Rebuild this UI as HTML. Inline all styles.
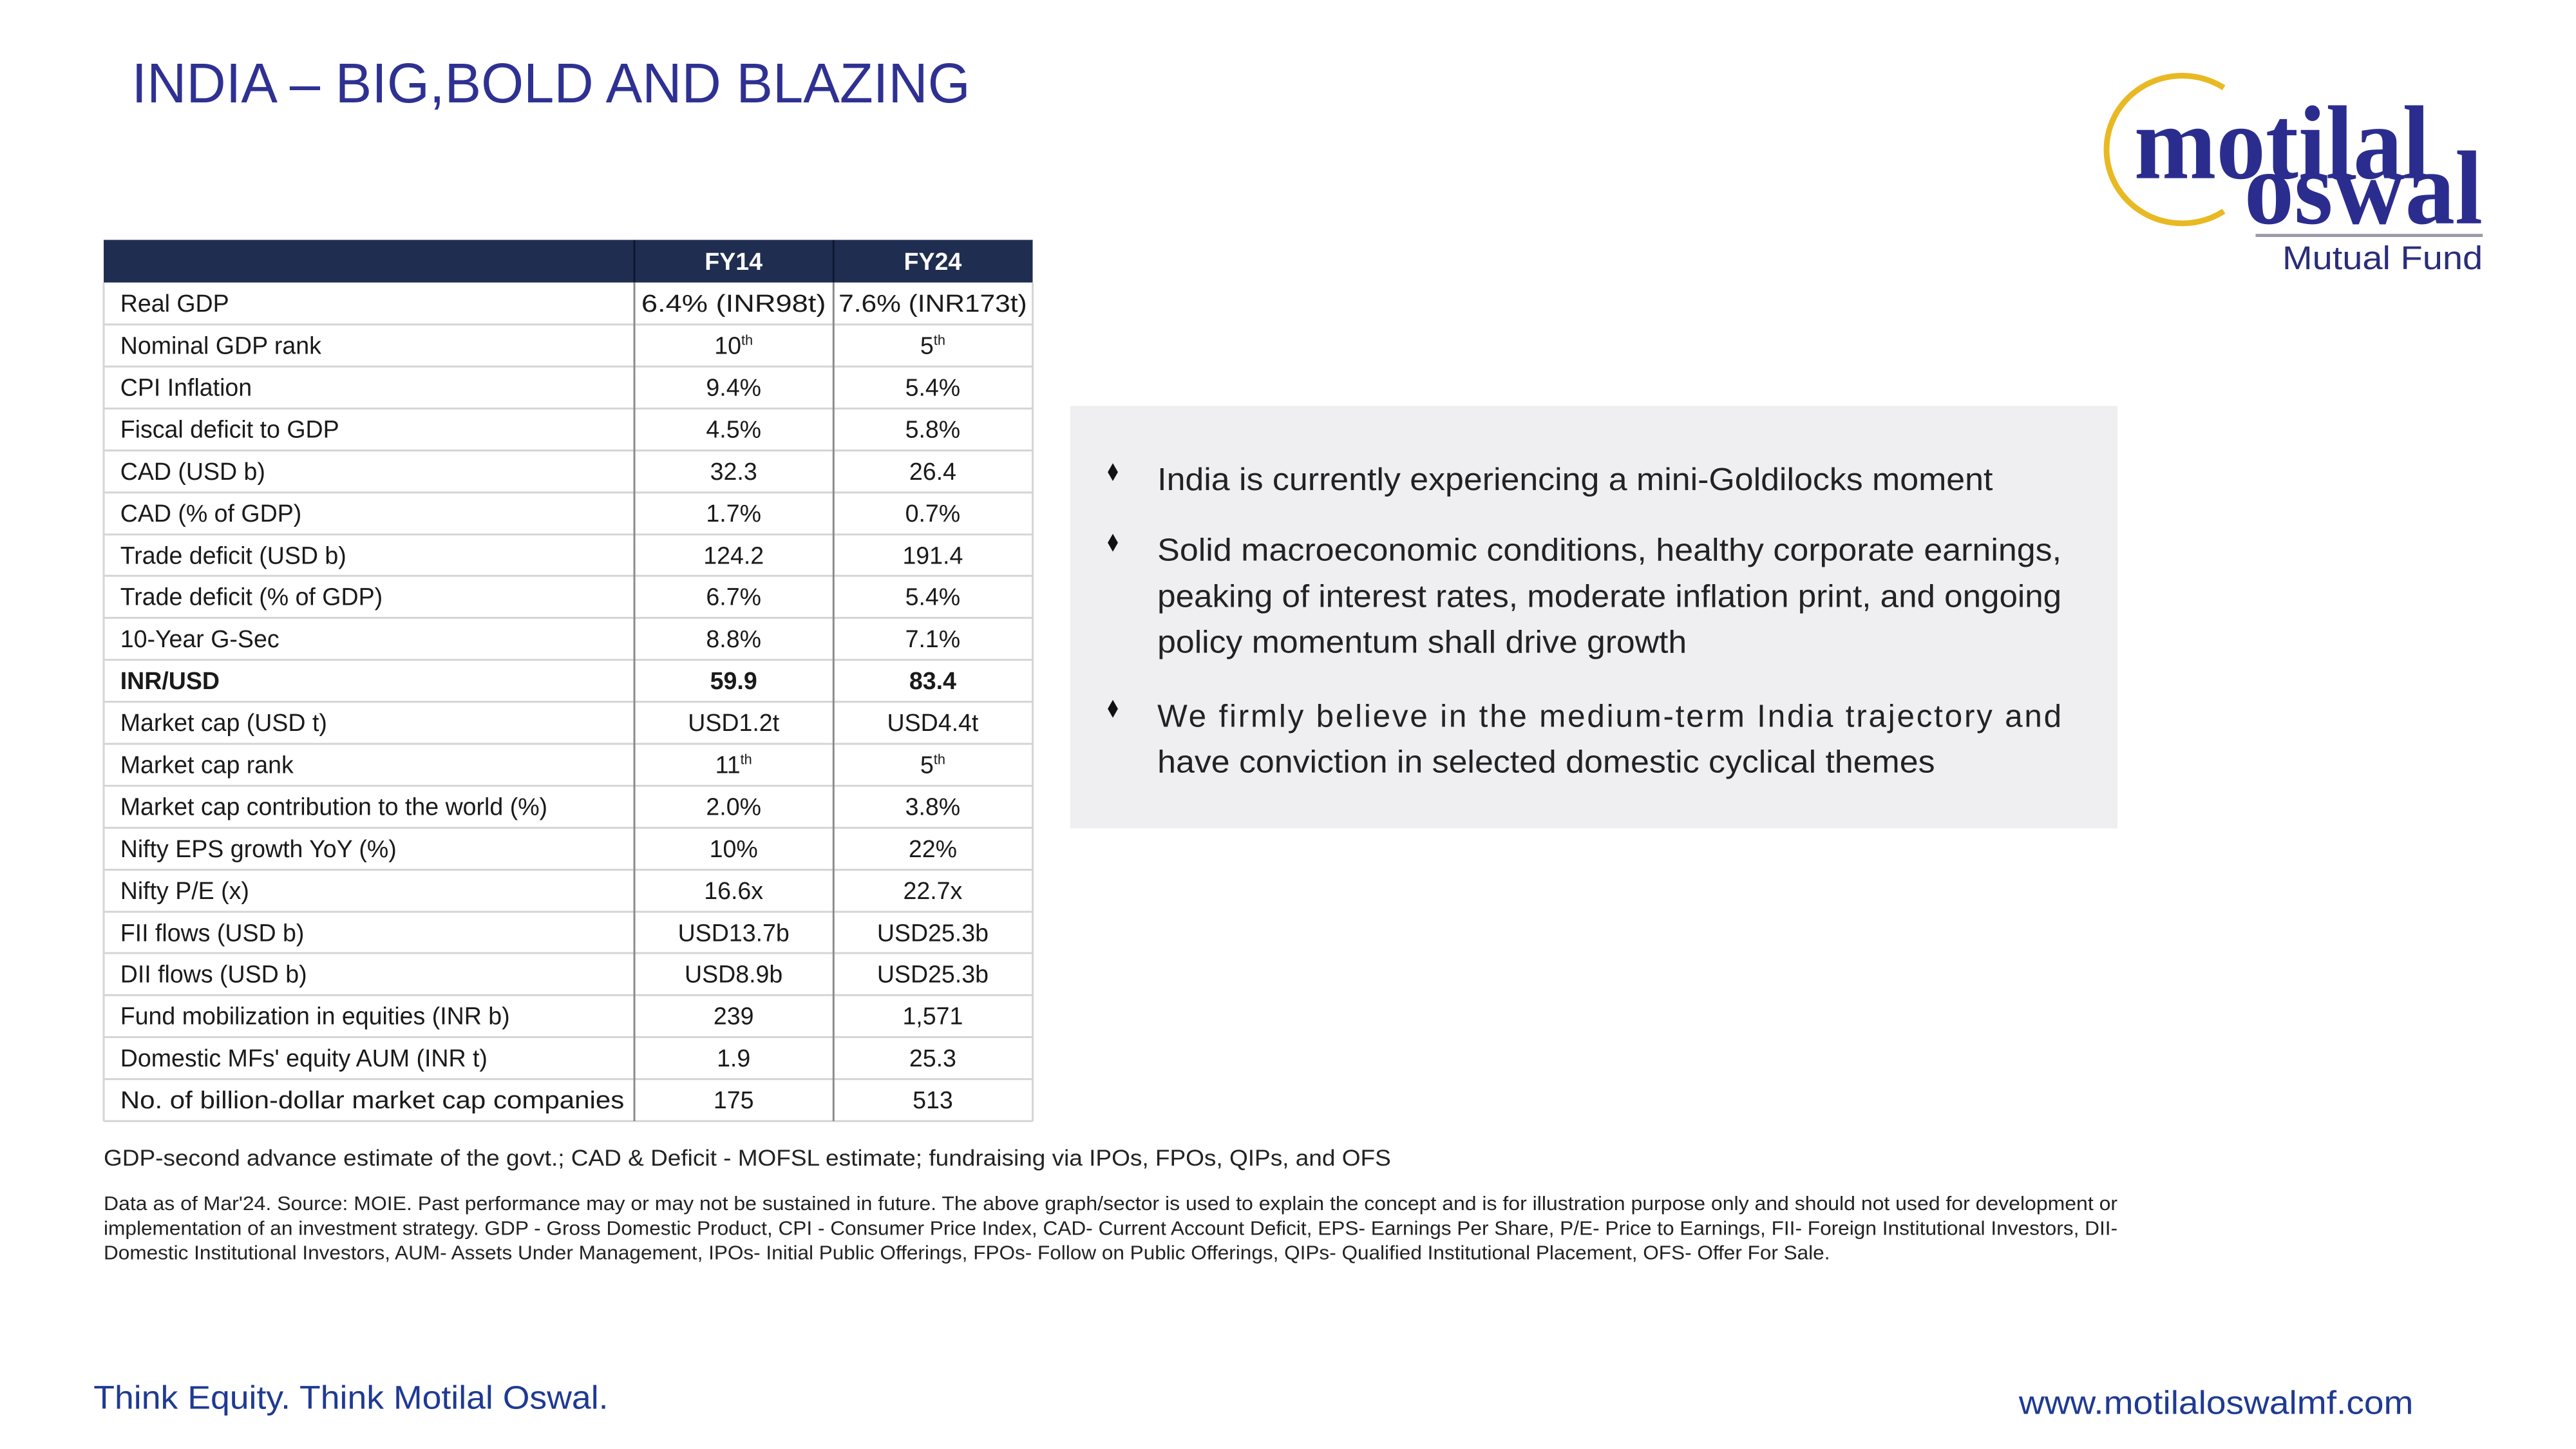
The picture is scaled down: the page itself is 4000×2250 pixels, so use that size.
<!DOCTYPE html>
<html><head><meta charset="utf-8"><style>
html,body{margin:0;padding:0;background:#fff;}
svg{display:block;}
</style></head><body>
<svg width="4000" height="2250" viewBox="0 0 4000 2250" xmlns="http://www.w3.org/2000/svg" font-family="Liberation Sans, sans-serif">
<rect width="4000" height="2250" fill="#fff"/>
<g transform="scale(0.988)">
<!-- Title -->
<text x="207" y="161" font-size="88" fill="#2e3192" textLength="1318" lengthAdjust="spacingAndGlyphs">INDIA – BIG,BOLD AND BLAZING</text>

<!-- Logo -->
<path d="M3495,138 A119,116 0 1 0 3495,332" fill="none" stroke="#e8b923" stroke-width="9"/>
<text x="3354" y="280" font-family="Liberation Serif, serif" font-weight="bold" font-size="165" fill="#2b2d8e" textLength="465" lengthAdjust="spacingAndGlyphs">motilal</text>
<text x="3527" y="351" font-family="Liberation Serif, serif" font-weight="bold" font-size="165" fill="#2b2d8e" textLength="375" lengthAdjust="spacingAndGlyphs">oswal</text>
<line x1="3545" y1="370" x2="3902" y2="370" stroke="#9a9aa8" stroke-width="5"/>
<text x="3587" y="423" font-size="52" fill="#2b2d7a" textLength="315" lengthAdjust="spacingAndGlyphs">Mutual Fund</text>

<!-- Table header -->
<rect x="163" y="377" width="1460" height="67" fill="#1f2d50"/>
<line x1="997" y1="377" x2="997" y2="444" stroke="#0e1730" stroke-width="3"/>
<line x1="1310" y1="377" x2="1310" y2="444" stroke="#0e1730" stroke-width="3"/>
<text x="1153" y="424" font-size="38" font-weight="bold" fill="#fff" text-anchor="middle">FY14</text>
<text x="1466" y="424" font-size="38" font-weight="bold" fill="#fff" text-anchor="middle">FY24</text>

<g font-size="38" fill="#1a1a1a">
<g stroke="#d4d4d4" stroke-width="3">
<line x1="163" y1="510" x2="1623" y2="510"/><line x1="163" y1="576" x2="1623" y2="576"/>
<line x1="163" y1="642" x2="1623" y2="642"/><line x1="163" y1="708" x2="1623" y2="708"/>
<line x1="163" y1="774" x2="1623" y2="774"/><line x1="163" y1="840" x2="1623" y2="840"/>
<line x1="163" y1="905" x2="1623" y2="905"/><line x1="163" y1="971" x2="1623" y2="971"/>
<line x1="163" y1="1037" x2="1623" y2="1037"/><line x1="163" y1="1103" x2="1623" y2="1103"/>
<line x1="163" y1="1169" x2="1623" y2="1169"/><line x1="163" y1="1235" x2="1623" y2="1235"/>
<line x1="163" y1="1301" x2="1623" y2="1301"/><line x1="163" y1="1367" x2="1623" y2="1367"/>
<line x1="163" y1="1433" x2="1623" y2="1433"/><line x1="163" y1="1498" x2="1623" y2="1498"/>
<line x1="163" y1="1564" x2="1623" y2="1564"/><line x1="163" y1="1630" x2="1623" y2="1630"/>
<line x1="163" y1="1696" x2="1623" y2="1696"/><line x1="163" y1="1762" x2="1623" y2="1762"/>
<line x1="163" y1="444" x2="163" y2="1762"/><line x1="1623" y1="444" x2="1623" y2="1762"/>
</g>
<line x1="997" y1="444" x2="997" y2="1762" stroke="#8a8a8a" stroke-width="3"/>
<line x1="1310" y1="444" x2="1310" y2="1762" stroke="#8a8a8a" stroke-width="3"/>

<g>
<text x="189" y="490">Real GDP</text>
<text x="189" y="556">Nominal GDP rank</text>
<text x="189" y="622">CPI Inflation</text>
<text x="189" y="688">Fiscal deficit to GDP</text>
<text x="189" y="754">CAD (USD b)</text>
<text x="189" y="820">CAD (% of GDP)</text>
<text x="189" y="886">Trade deficit (USD b)</text>
<text x="189" y="951">Trade deficit (% of GDP)</text>
<text x="189" y="1017">10-Year G-Sec</text>
<text x="189" y="1083" font-weight="bold">INR/USD</text>
<text x="189" y="1149">Market cap (USD t)</text>
<text x="189" y="1215">Market cap rank</text>
<text x="189" y="1281">Market cap contribution to the world (%)</text>
<text x="189" y="1347">Nifty EPS growth YoY (%)</text>
<text x="189" y="1413">Nifty P/E (x)</text>
<text x="189" y="1479">FII flows (USD b)</text>
<text x="189" y="1544">DII flows (USD b)</text>
<text x="189" y="1610">Fund mobilization in equities (INR b)</text>
<text x="189" y="1676">Domestic MFs' equity AUM (INR t)</text>
<text x="189" y="1742" textLength="792" lengthAdjust="spacingAndGlyphs">No. of billion-dollar market cap companies</text>
</g>
<g text-anchor="middle">
<text x="1153" y="490" textLength="290" lengthAdjust="spacingAndGlyphs">6.4% (INR98t)</text><text x="1466" y="490" textLength="296" lengthAdjust="spacingAndGlyphs">7.6% (INR173t)</text>
<text x="1153" y="556">10<tspan font-size="22" dy="-14">th</tspan></text><text x="1466" y="556">5<tspan font-size="22" dy="-14">th</tspan></text>
<text x="1153" y="622">9.4%</text><text x="1466" y="622">5.4%</text>
<text x="1153" y="688">4.5%</text><text x="1466" y="688">5.8%</text>
<text x="1153" y="754">32.3</text><text x="1466" y="754">26.4</text>
<text x="1153" y="820">1.7%</text><text x="1466" y="820">0.7%</text>
<text x="1153" y="886">124.2</text><text x="1466" y="886">191.4</text>
<text x="1153" y="951">6.7%</text><text x="1466" y="951">5.4%</text>
<text x="1153" y="1017">8.8%</text><text x="1466" y="1017">7.1%</text>
<text x="1153" y="1083" font-weight="bold">59.9</text><text x="1466" y="1083" font-weight="bold">83.4</text>
<text x="1153" y="1149">USD1.2t</text><text x="1466" y="1149">USD4.4t</text>
<text x="1153" y="1215">11<tspan font-size="22" dy="-14">th</tspan></text><text x="1466" y="1215">5<tspan font-size="22" dy="-14">th</tspan></text>
<text x="1153" y="1281">2.0%</text><text x="1466" y="1281">3.8%</text>
<text x="1153" y="1347">10%</text><text x="1466" y="1347">22%</text>
<text x="1153" y="1413">16.6x</text><text x="1466" y="1413">22.7x</text>
<text x="1153" y="1479">USD13.7b</text><text x="1466" y="1479">USD25.3b</text>
<text x="1153" y="1544">USD8.9b</text><text x="1466" y="1544">USD25.3b</text>
<text x="1153" y="1610">239</text><text x="1466" y="1610">1,571</text>
<text x="1153" y="1676">1.9</text><text x="1466" y="1676">25.3</text>
<text x="1153" y="1742">175</text><text x="1466" y="1742">513</text>
</g>
</g>

<!-- Bullet box -->
<rect x="1682" y="638" width="1646" height="664" fill="#efeff1"/>
<g fill="#111">
<path d="M1749,728 L1757,742 L1749,756 L1741,742 Z"/>
<path d="M1749,839 L1757,853 L1749,867 L1741,853 Z"/>
<path d="M1749,1100 L1757,1114 L1749,1128 L1741,1114 Z"/>
</g>
<g font-size="50" fill="#222">
<text x="1819" y="770" textLength="1313" lengthAdjust="spacingAndGlyphs">India is currently experiencing a mini-Goldilocks moment</text>
<text x="1819" y="881" textLength="1421" lengthAdjust="spacingAndGlyphs">Solid macroeconomic conditions, healthy corporate earnings,</text>
<text x="1819" y="954" textLength="1421" lengthAdjust="spacingAndGlyphs">peaking of interest rates, moderate inflation print, and ongoing</text>
<text x="1819" y="1026" textLength="832" lengthAdjust="spacingAndGlyphs">policy momentum shall drive growth</text>
<text x="1819" y="1142" textLength="1421" lengthAdjust="spacing">We firmly believe in the medium-term India trajectory and</text>
<text x="1819" y="1214" textLength="1222" lengthAdjust="spacingAndGlyphs">have conviction in selected domestic cyclical themes</text>
</g>

<!-- Notes -->
<text x="163" y="1832" font-size="36" fill="#222" textLength="2023" lengthAdjust="spacingAndGlyphs">GDP-second advance estimate of the govt.; CAD &amp; Deficit - MOFSL estimate; fundraising via IPOs, FPOs, QIPs, and OFS</text>
<g font-size="31" fill="#222">
<text x="163" y="1902" textLength="3165" lengthAdjust="spacingAndGlyphs">Data as of Mar'24. Source: MOIE. Past performance may or may not be sustained in future. The above graph/sector is used to explain the concept and is for illustration purpose only and should not used for development or</text>
<text x="163" y="1941" textLength="3165" lengthAdjust="spacingAndGlyphs">implementation of an investment strategy. GDP - Gross Domestic Product, CPI - Consumer Price Index, CAD- Current Account Deficit, EPS- Earnings Per Share, P/E- Price to Earnings, FII- Foreign Institutional Investors, DII-</text>
<text x="163" y="1979" textLength="2713" lengthAdjust="spacingAndGlyphs">Domestic Institutional Investors, AUM- Assets Under Management, IPOs- Initial Public Offerings, FPOs- Follow on Public Offerings, QIPs- Qualified Institutional Placement, OFS- Offer For Sale.</text>
</g>

<!-- Footer -->
<text x="147" y="2214" font-size="52" fill="#1f3a93" textLength="809" lengthAdjust="spacingAndGlyphs">Think Equity. Think Motilal Oswal.</text>
<text x="3173" y="2222" font-size="52" fill="#1f3a93" textLength="620" lengthAdjust="spacingAndGlyphs">www.motilaloswalmf.com</text>
</g>
</svg>
</body></html>
